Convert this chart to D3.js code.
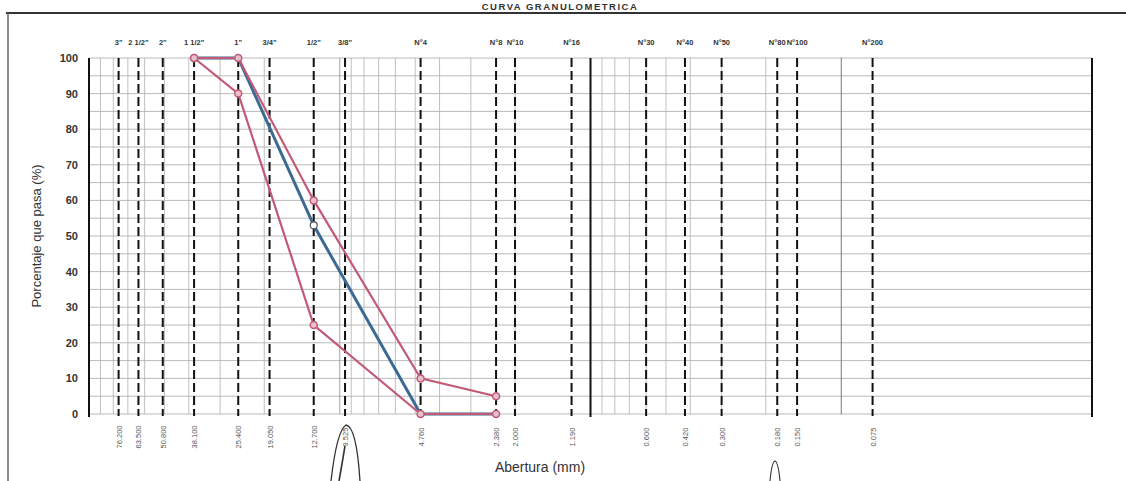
<!DOCTYPE html>
<html><head><meta charset="utf-8">
<script src="https://cdn.jsdelivr.net/npm/d3@7"></script>
<style>html,body{margin:0;padding:0;background:#fff;}svg{display:block;}</style>
</head><body>
<svg id="c" width="1126" height="481"></svg>
<script>
// ---- data ----
const sieveLabels = ['3"','2 1/2"','2"','1 1/2"','1"','3/4"','1/2"','3/8"','N°4','N°8','N°10','N°16','N°30','N°40','N°50','N°80','N°100','N°200'];
const sieveSizes  = [76.2,63.5,50.8,38.1,25.4,19.05,12.7,9.525,4.76,2.38,2.0,1.19,0.6,0.42,0.3,0.18,0.15,0.075];
const sizeLabels  = ['76.200','63.500','50.800','38.100','25.400','19.050','12.700','9.525','4.760','2.380','2.000','1.190','0.600','0.420','0.300','0.180','0.150','0.075'];
const yTicks = [0,10,20,30,40,50,60,70,80,90,100];
const curveSizes = [38.1,25.4,12.7,4.76,2.38];
const upperLimit = [100,100,60,10,5];
const lowerLimit = [100,90,25,0,0];
const material   = [100,100,53,0,0];

const svg = d3.select('#c');
const W = 1126, H = 481;
const x = d3.scaleLog().domain([100,0.01]).range([89,1092]);
const y = d3.scaleLinear().domain([0,100]).range([414,58]);
const font = 'Liberation Sans, Arial, sans-serif';

// frame
svg.append('line').attr('x1',6).attr('x2',W).attr('y1',13).attr('y2',13).attr('stroke','#333').attr('stroke-width',2.2);
svg.append('line').attr('x1',8).attr('x2',8).attr('y1',13).attr('y2',H).attr('stroke','#666').attr('stroke-width',1.5);
svg.append('text').attr('x',560).attr('y',10).attr('text-anchor','middle')
  .attr('font-family',font).attr('font-size',9.5).attr('font-weight','bold')
  .attr('letter-spacing',1.5).attr('fill','#333').text('CURVA GRANULOMETRICA');

const g = svg.append('g');
// horizontal grid every 5%
g.selectAll('.hg').data(d3.range(0,101,5)).enter().append('line')
  .attr('x1',x(100)).attr('x2',x(0.01)).attr('y1',d=>y(d)).attr('y2',d=>y(d))
  .attr('stroke','#a8a8a8').attr('stroke-width',0.8);
// minor log grid between 100 and 0.1
const minor = [];
[10,1,0.1].forEach(dec=>{for(let k=2;k<=9;k++){minor.push(dec*k);} });
g.selectAll('.vg').data(minor.filter(v=>v<100 && v>0.1)).enter().append('line')
  .attr('x1',d=>x(d)).attr('x2',d=>x(d)).attr('y1',y(100)).attr('y2',y(0))
  .attr('stroke','#b0b0b0').attr('stroke-width',0.8);
g.append('line').attr('x1',x(10)).attr('x2',x(10)).attr('y1',y(100)).attr('y2',y(0)).attr('stroke','#999').attr('stroke-width',0.9);
g.append('line').attr('x1',x(0.1)).attr('x2',x(0.1)).attr('y1',y(100)).attr('y2',y(0)).attr('stroke','#777').attr('stroke-width',1);
// heavy decade lines
[100,1,0.01].forEach(v=>{
  g.append('line').attr('x1',x(v)).attr('x2',x(v)).attr('y1',y(100)).attr('y2',y(0)+3).attr('stroke','#111').attr('stroke-width',2);
});
// sieve dashed lines
g.selectAll('.sv').data(sieveSizes).enter().append('line')
  .attr('x1',d=>x(d)).attr('x2',d=>x(d)).attr('y1',y(100)).attr('y2',y(0)+2)
  .attr('stroke','#111').attr('stroke-width',2).attr('stroke-dasharray','9,4');

// y axis labels
g.selectAll('.yl').data(yTicks).enter().append('text')
  .attr('x',78).attr('y',d=>y(d)+4).attr('text-anchor','end')
  .attr('font-family',font).attr('font-size',11).attr('font-weight','bold').attr('fill','#333').text(d=>d);
// top sieve labels
g.selectAll('.tl').data(sieveSizes).enter().append('text')
  .attr('x',d=>x(d)).attr('y',45).attr('text-anchor','middle')
  .attr('font-family',font).attr('font-size',7.5).attr('font-weight','bold').attr('fill','#333')
  .text((d,i)=>sieveLabels[i]);
// bottom size labels (rotated)
g.selectAll('.bl').data(sieveSizes).enter().append('text')
  .attr('transform',d=>`translate(${x(d)+3},${437}) rotate(-90)`).attr('text-anchor','middle')
  .attr('font-family',font).attr('font-size',7.5).attr('fill','#555')
  .text((d,i)=>sizeLabels[i]);

// axis titles
svg.append('text').attr('transform','translate(41,236) rotate(-90)').attr('text-anchor','middle')
  .attr('font-family',font).attr('font-size',13).attr('fill','#333').text('Porcentaje que pasa (%)');
svg.append('text').attr('x',540).attr('y',472).attr('text-anchor','middle')
  .attr('font-family',font).attr('font-size',14).attr('fill','#333').text('Abertura (mm)');

// curves
const line = d3.line().x((d,i)=>x(curveSizes[i])).y(d=>y(d));
const pink = '#c25a76', blue = '#3d6a92';
g.append('path').datum(material).attr('d',line).attr('fill','none').attr('stroke',blue).attr('stroke-width',3);
[upperLimit, lowerLimit].forEach(s=>{
  g.append('path').datum(s).attr('d',line).attr('fill','none').attr('stroke',pink).attr('stroke-width',2.2);
});
[upperLimit, lowerLimit].forEach(s=>{
  g.selectAll(null).data(s).enter().append('circle')
    .attr('cx',(d,i)=>x(curveSizes[i])).attr('cy',d=>y(d)).attr('r',3.5)
    .attr('fill','#e8c0cb').attr('stroke',pink).attr('stroke-width',1.5);
});
g.selectAll(null).data(material).enter().append('circle')
  .attr('cx',(d,i)=>x(curveSizes[i])).attr('cy',d=>y(d)).attr('r',3.5)
  .attr('fill','#fff').attr('stroke','#555').attr('stroke-width',1.2)
  .attr('opacity',(d,i)=>i===2?1:0);

// hand-drawn pen marks (annotations on scan)
svg.append('path').attr('d','M331,481 C334,455 338,430 346,425 C354,426 358,450 360,481')
  .attr('fill','none').attr('stroke','#333').attr('stroke-width',1.3);
svg.append('path').attr('d','M345,446 C343,458 341,470 339,481')
  .attr('fill','none').attr('stroke','#333').attr('stroke-width',1.6);
svg.append('path').attr('d','M770,481 C771,470 772,462 775,461 C778,462 779,470 780,481')
  .attr('fill','none').attr('stroke','#333').attr('stroke-width',1.1);
</script>
</body></html>
